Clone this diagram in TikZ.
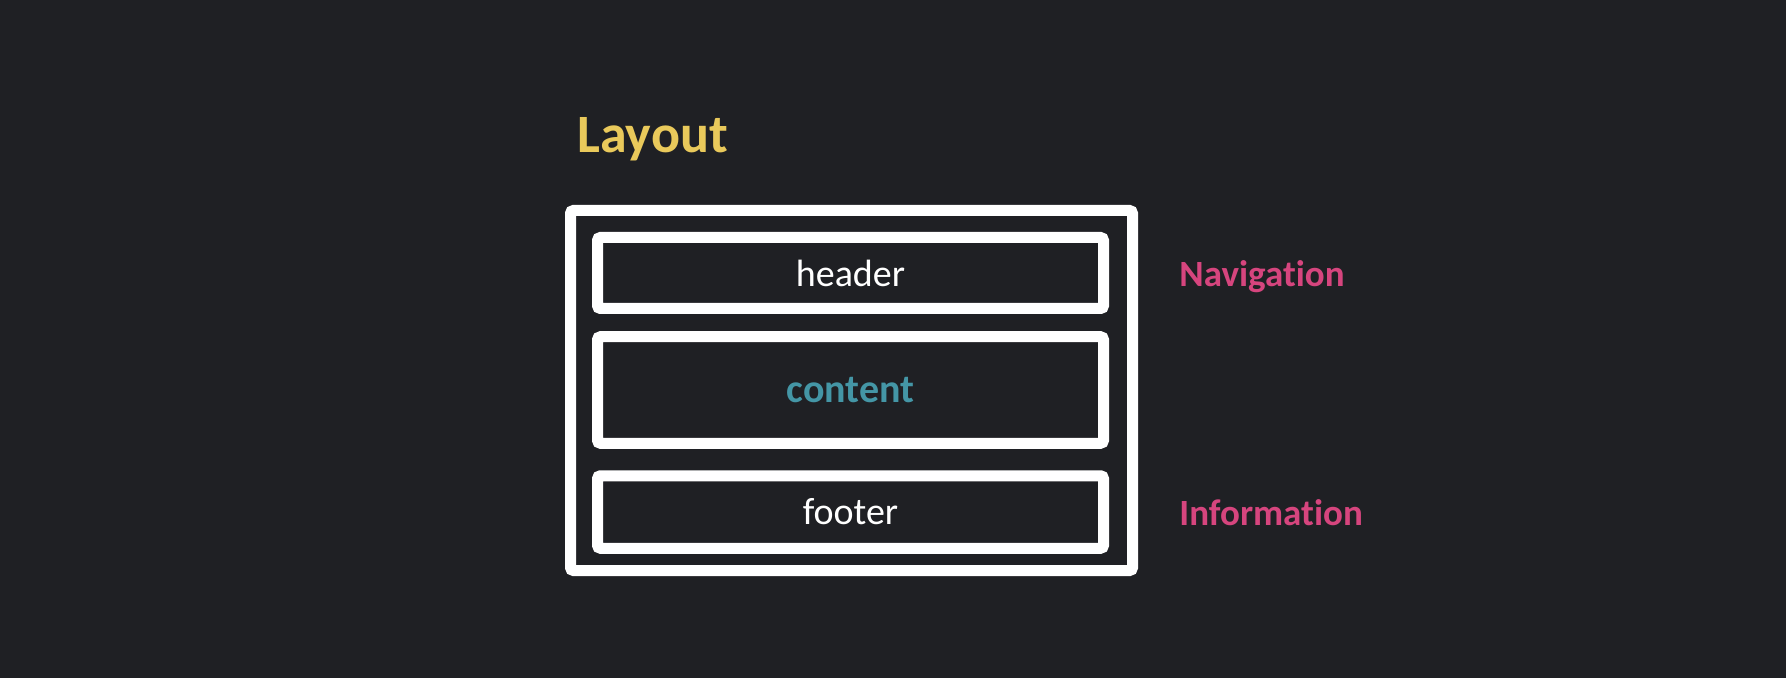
\documentclass[tikz,border=0pt]{standalone}
\usepackage{fontspec}
\setmainfont{Carlito}[Ligatures=NoCommon]
\usetikzlibrary{positioning}
\definecolor{bgdark}{HTML}{1F2024}
\definecolor{titleyellow}{HTML}{E9C95B}
\definecolor{navpink}{HTML}{D6457E}
\definecolor{contentteal}{HTML}{4496A6}
\tikzset{frame/.style = {draw=white, line width=5.5pt, rounded corners=1.5pt, fill=bgdark}}
\tikzset{part/.style = {frame, minimum width=253pt, text=white, font=\fontsize{19}{22}\selectfont}}
\tikzset{side/.style = {anchor=base west, inner sep=0, text=navpink, font=\bfseries\fontsize{18.5}{22}\selectfont}}

\begin{document}
\begin{tikzpicture}[x=0.5pt, y=-0.5pt]
      \fill [bgdark] (0, 0) rectangle (1786, 678);

      \node [anchor=base west, inner sep=0, text=titleyellow, font=\bfseries\fontsize{27}{32}\selectfont] (title) at (577, 153) {Layout};

      \node [frame, minimum width=281pt, minimum height=180pt] (page) at (851.5, 390.5) {};
      \node [part, minimum height=35.5pt] (header) at (850.5, 273) {header};
      \node [part, minimum height=53.25pt, text=contentteal, font=\bfseries\fontsize{20}{24}\selectfont] (content) at (850.5, 390) {content};
      \node [part, minimum height=36.25pt] (footer) at (850.5, 512) {footer};

      \node [side] (nav) at (1179, 287) {Navigation};
      \node [side] (info) at (1179, 525) {Information};
    \end{tikzpicture}
\end{document}
